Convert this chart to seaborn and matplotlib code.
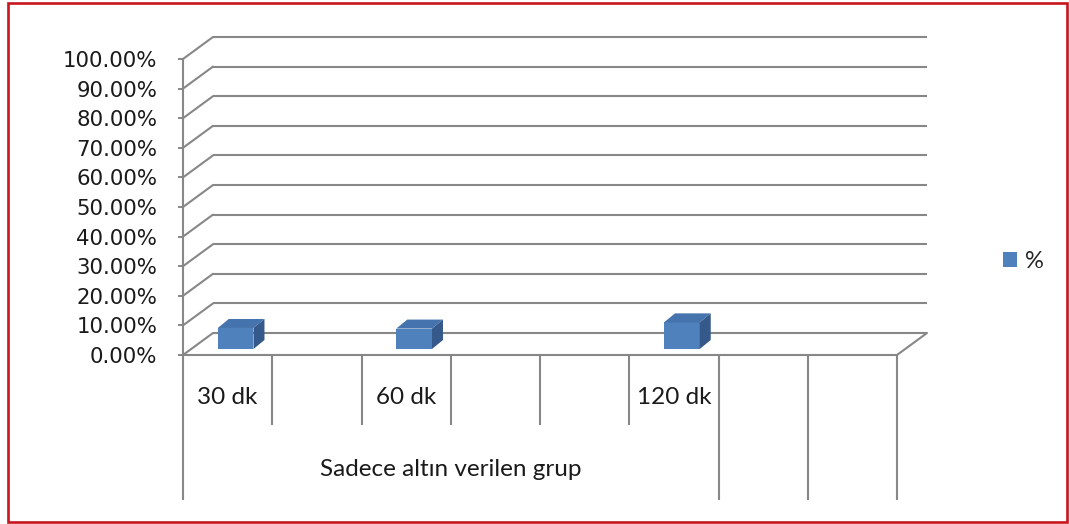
import numpy as np
import pandas as pd
import seaborn as sns
import matplotlib.pyplot as plt
from matplotlib import transforms
from matplotlib.patches import Polygon, Rectangle, Patch
from matplotlib.ticker import FuncFormatter

# Table columns under the axis (empty strings are blank columns)
slot_labels = ["30 dk", "", "60 dk", "", "", "120 dk", "", ""]
# Percent value for each column (NaN = no bar)
slot_values = [7.1, np.nan, 6.9, np.nan, np.nan, 9.0, np.nan, np.nan]
group_label = "Sadece altın verilen grup"
group_span = 6  # number of columns covered by the group label
series_name = "%"
y_ticks = list(range(0, 101, 10))

FRONT = "#4F81BD"
TOP = "#4573AD"
SIDE = "#35598A"
GRID = "#878787"
BORDER = "#C8161E"

sns.set_style("white")
plt.rcParams["font.family"] = ["DejaVu Sans"]

W, H, DPI = 1069, 524, 100
fig = plt.figure(figsize=(W / DPI, H / DPI), dpi=DPI)
# plot area: front floor edge 183..897 px, 0% at y=355, 100% at y=59
ax = fig.add_axes([183 / W, (H - 355) / H, 714 / W, 296 / H])

n = len(slot_labels)
df = pd.DataFrame({"slot": range(n), "value": slot_values}).dropna()
sns.barplot(data=df, x="slot", y="value", order=list(range(n)), width=0.4,
            color=FRONT, saturation=1, linewidth=0, ax=ax, zorder=3)

ax.set_xlim(-0.5, n - 0.5)
ax.set_ylim(0, 100)
ax.set_xlabel("")
ax.set_ylabel("")
ax.set_xticks([])
ax.set_yticks(y_ticks)
ax.yaxis.set_major_formatter(FuncFormatter(lambda v, _: f"{v:.2f}%"))
ax.tick_params(axis="y", length=3.6, width=1.4, color=GRID, pad=15,
               labelsize=15.3, labelcolor="#1a1a1a", left=True)
for s in ["top", "right"]:
    ax.spines[s].set_visible(False)
for s in ["left", "bottom"]:
    ax.spines[s].set_color(GRID)
    ax.spines[s].set_linewidth(1.5)
ax.patch.set_alpha(0)

ident = transforms.IdentityTransform()
# depth of the back wall and position of the columns inside the depth
wall_dx, wall_dy = 30, 22
bar_dx, bar_dy = 8, 6
depth_dx, depth_dy = 11, 9

# back wall grid lines plus the diagonal on the side wall
back = transforms.offset_copy(ax.transData, fig=fig, x=wall_dx, y=wall_dy, units="dots")
for t in y_ticks:
    ax.plot([-0.5, n - 0.5], [t, t], color=GRID, lw=1.5, transform=back,
            clip_on=False, zorder=1, solid_capstyle="butt")
    p = ax.transData.transform((-0.5, t))
    ax.add_line(plt.Line2D([p[0], p[0] + wall_dx], [p[1], p[1] + wall_dy],
                           color=GRID, lw=1.5, transform=ident, clip_on=False, zorder=1))
# right side of the floor
p = ax.transData.transform((n - 0.5, 0))
ax.add_line(plt.Line2D([p[0], p[0] + wall_dx], [p[1], p[1] + wall_dy],
                       color=GRID, lw=1.5, transform=ident, clip_on=False, zorder=1))

# 3D columns: shift front faces into the depth and add top / side faces
bar_tr = transforms.offset_copy(ax.transData, fig=fig, x=bar_dx, y=bar_dy, units="dots")
for bar in list(ax.patches):
    x0, w, h = bar.get_x(), bar.get_width(), bar.get_height()
    if not np.isfinite(h):
        continue
    bar.set_transform(bar_tr)
    bar.set_clip_on(False)
    (xl, yb) = ax.transData.transform((x0, 0)) + (bar_dx, bar_dy)
    (xr, yt) = ax.transData.transform((x0 + w, h)) + (bar_dx, bar_dy)
    top = Polygon([(xl, yt), (xr, yt), (xr + depth_dx, yt + depth_dy),
                   (xl + depth_dx, yt + depth_dy)], closed=True,
                  facecolor=TOP, edgecolor="none", transform=ident, clip_on=False, zorder=3)
    side = Polygon([(xr, yb), (xr, yt), (xr + depth_dx, yt + depth_dy),
                    (xr + depth_dx, yb + depth_dy)], closed=True,
                   facecolor=SIDE, edgecolor="none", transform=ident, clip_on=False, zorder=3)
    fig.add_artist(top)
    fig.add_artist(side)

# category table under the plot
tab = transforms.blended_transform_factory(ax.transData, ax.transAxes)
short_y = (355 - 425) / 296
long_y = (355 - 500) / 296
for b in np.arange(-0.5, n):
    inner = -0.5 < b < group_span - 0.5
    ax.plot([b, b], [0, short_y if inner else long_y], color=GRID, lw=1.5,
            transform=tab, clip_on=False, solid_capstyle="butt")
label_font = ["Lato", "DejaVu Sans"]
for i, lab in enumerate(slot_labels):
    if lab:
        ax.text(i, (355 - 397) / 296, lab, transform=tab, ha="center", va="center",
                fontsize=17.5, family=label_font, color="#1a1a1a")
ax.text((group_span - 1) / 2, (355 - 470) / 296, group_label, transform=tab,
        ha="center", va="center", fontsize=17.5, family=label_font, color="#1a1a1a")

# legend
fig.legend(handles=[Patch(facecolor=FRONT, edgecolor="none")], labels=[series_name],
           loc="center left", bbox_to_anchor=(982 / W, 1 - 261 / H), frameon=False,
           handlelength=0.6, handleheight=0.6, handletextpad=0.3,
           prop={"family": label_font, "size": 17})

# chart border
fig.patches.append(Rectangle((8 / W, 2 / H), 1059 / W, 519 / H, transform=fig.transFigure,
                             fill=False, edgecolor=BORDER, linewidth=1.9))

fig.savefig("out.png", dpi=DPI)
